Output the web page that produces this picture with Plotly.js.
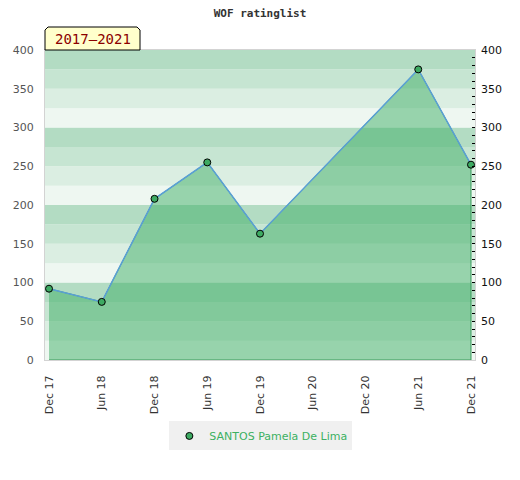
<!DOCTYPE html>
<html>
<head>
<meta charset="utf-8">
<script src="https://cdn.plot.ly/plotly-3.0.1.min.js"></script>
<style>html,body{margin:0;padding:0;background:#fff;}#chart{width:520px;height:480px;}</style>
</head>
<body>
<div id="chart"></div>
<script>
const tickLabels = ['Dec 17','Jun 18','Dec 18','Jun 19','Dec 19','Jun 20','Dec 20','Jun 21','Dec 21'];
const periods = ['Dec 17','Jun 18','Dec 18','Jun 19','Dec 19','Jun 21','Dec 21'];
const ratings = [92, 75, 208, 255, 163, 375, 252];
const playerName = 'SANTOS Pamela De Lima';
const chartTitle = 'WOF ratinglist';
const periodLabel = '2017\u20132021';

const bandColors = ['#eef7f1', '#dbeee2', '#c6e5d2', '#b3dcc3'];
const shapes = [];
for (let v = 0; v < 400; v += 25) {
  shapes.push({type:'rect', xref:'paper', yref:'y', x0:0, x1:1, y0:v, y1:v+25,
    fillcolor: bandColors[(v/25)%4], line:{width:0}, layer:'below'});
}
const cx = 3/430, cy = 3/310, bx = 95/430, by = 1 + 23/310;
shapes.push({type:'path', xref:'paper', yref:'paper',
  path:`M 0,1 L 0,${by-cy} L ${cx},${by} L ${bx-cx},${by} L ${bx},${by-cy} L ${bx},1 Z`,
  fillcolor:'#ffffcc', line:{color:'#000', width:1}, layer:'above'});

const polyX = periods.concat([periods[periods.length-1], periods[0]]);
const polyY = ratings.concat([0, 0]);

const traces = [
  {x: polyX, y: polyY, type:'scatter', mode:'lines', fill:'toself',
   fillcolor:'rgba(57,172,97,0.48)', line:{color:'#3a9a5c', width:1},
   showlegend:false, hoverinfo:'skip'},
  {x: periods, y: ratings, type:'scatter', mode:'lines',
   line:{color:'#5a9fd6', width:1.5}, showlegend:false, hoverinfo:'skip'},
  {x: periods, y: ratings, type:'scatter', mode:'markers', name: playerName,
   yaxis:'y2',
   marker:{color:'#3daa62', size:7, line:{color:'#000', width:1}}}
];

const layout = {
  width:520, height:480,
  margin:{l:45, r:45, t:50, b:120},
  paper_bgcolor:'#fff', plot_bgcolor:'#fff',
  title:{text:'<b>'+chartTitle+'</b>', x:0.5, xanchor:'center', y:1-13/480, yanchor:'middle',
    font:{family:'DejaVu Sans Mono', size:11, color:'#333'}},
  xaxis:{type:'category', categoryorder:'array', categoryarray:tickLabels,
    tickvals:tickLabels, ticktext:tickLabels,
    range:[-0.076, 8.076], tickangle:-90, showgrid:false, zeroline:false,
    showline:true, mirror:true, linecolor:'#d3d3d3', linewidth:1,
    ticks:'outside', ticklen:10, tickcolor:'rgba(0,0,0,0)',
    tickfont:{family:'DejaVu Sans', size:11, color:'#333'}, fixedrange:true},
  yaxis:{range:[0,400], dtick:50, showgrid:false, zeroline:false,
    showline:true, mirror:true, linecolor:'#d3d3d3', linewidth:1,
    ticks:'outside', ticklen:8, tickcolor:'rgba(0,0,0,0)',
    tickfont:{family:'DejaVu Sans', size:11, color:'#555'}, fixedrange:true},
  yaxis2:{range:[0,400], dtick:50, overlaying:'y', side:'right', showgrid:false, zeroline:false,
    showline:false, ticks:'inside', ticklen:3, tickcolor:'#000', tickwidth:1,
    ticklabelstandoff:5,
    minor:{dtick:10, ticks:'inside', ticklen:3, tickcolor:'#000', tickwidth:1, showgrid:false},
    tickfont:{family:'DejaVu Sans', size:11, color:'#111'}, fixedrange:true},
  shapes: shapes,
  annotations:[{xref:'paper', yref:'paper', x:0.1105, y:1+11.5/310, xanchor:'center', yanchor:'middle',
    text: periodLabel, showarrow:false,
    font:{family:'DejaVu Sans Mono', size:14, color:'#8b0000'}}],
  showlegend:true,
  legend:{orientation:'h', x:0.502, xanchor:'center', y:-0.245, yanchor:'middle',
    bgcolor:'#f0f0f0', font:{family:'DejaVu Sans', size:11, color:'#3cb062'}}
};

Plotly.newPlot('chart', traces, layout, {staticPlot:true, displayModeBar:false});
</script>
</body>
</html>
